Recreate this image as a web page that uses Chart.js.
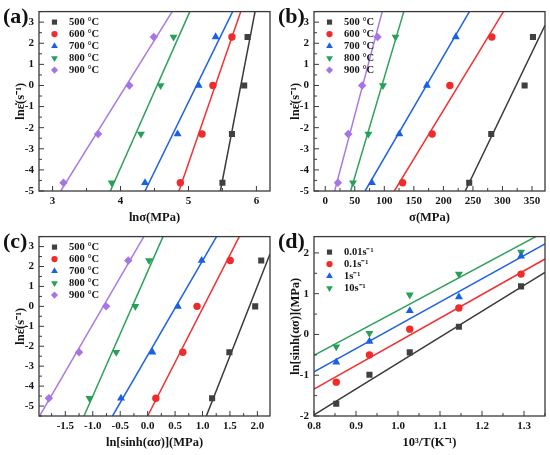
<!DOCTYPE html>
<html>
<head>
<meta charset="utf-8">
<script src="https://cdn.jsdelivr.net/npm/chart.js@4.4.1/dist/chart.umd.min.js"></script>
<style>
  body { margin: 0; background: #fff; width: 550px; height: 455px; position: relative; overflow: hidden; }
  .pane { position: absolute; width: 275px; height: 228px; }
  .tag { position: absolute; font: bold 22px "Liberation Serif"; line-height: 22px; color: #111; }
</style>
</head>
<body>
<div class="pane" style="left:0;top:0"><canvas id="ca" width="275" height="228"></canvas></div>
<div class="pane" style="left:275px;top:0"><canvas id="cb" width="275" height="228"></canvas></div>
<div class="pane" style="left:0;top:225px"><canvas id="cc" width="275" height="228"></canvas></div>
<div class="pane" style="left:275px;top:225px"><canvas id="cd" width="275" height="228"></canvas></div>
<div class="tag" style="left:3px;top:5px">(a)</div>
<div class="tag" style="left:278px;top:5px">(b)</div>
<div class="tag" style="left:3px;top:230px">(c)</div>
<div class="tag" style="left:278px;top:230px">(d)</div>
<script>
// strain rates 0.01, 0.1, 1, 10 s-1 as ln values
var rateLn = [-4.61, -2.30, 0, 2.30];
var tempLabels = ['500 °C', '600 °C', '700 °C', '800 °C', '900 °C'];
var rateLabels = ['0.01s⁻¹', '0.1s⁻¹', '1s⁻¹', '10s⁻¹'];
var invT = [0.853, 0.932, 1.028, 1.145, 1.293];

// (a) ln(sigma) per temperature
var lnSig = [
  [5.50, 5.64, 5.82, 5.87],
  [4.88, 5.20, 5.36, 5.64],
  [4.36, 4.84, 5.15, 5.40],
  [3.87, 4.30, 4.59, 4.78],
  [3.16, 3.67, 4.13, 4.49]
];
// fitted lines: [x1, y1, x2, y2]
var lnSigFit = [
  [5.47, -5, 5.98, 3.5],
  [4.86, -5, 5.77, 3.5],
  [4.36, -5, 5.65, 3.5],
  [3.85, -5, 5.02, 3.5],
  [3.12, -5, 4.76, 3.5]
];

// (b) sigma (MPa)
var sig = [
  [243.7, 281, 337.5, 351.6],
  [131, 181, 211, 282],
  [79, 125.5, 172, 221],
  [47, 73, 97.7, 119],
  [21.5, 39, 62.5, 88.6]
];
var sigFit = [
  [237, -5, 372, 2.85],
  [117, -5, 301.7, 3.5],
  [67.5, -5, 244, 3.5],
  [43, -5, 133, 3.5],
  [16, -5, 96.5, 3.5]
];

// (c) ln[sinh(alpha*sigma)]
var lnSinh = [
  [1.175, 1.49, 1.96, 2.07],
  [0.15, 0.64, 0.90, 1.505],
  [-0.486, 0.087, 0.55, 0.985],
  [-1.06, -0.573, -0.225, 0.026],
  [-1.80, -1.25, -0.756, -0.353]
];
var lnSinhFit = [
  [1.07, -5.5, 2.23, 2.63],
  [0.0, -5.5, 1.67, 3.5],
  [-0.64, -5.5, 1.255, 3.5],
  [-1.16, -5.5, 0.28, 3.5],
  [-1.98, -5.55, -0.07, 3.5]
];

// (d) ln[sinh(alpha*sigma)] vs 1000/T, per strain rate
var lnSinhT = [
  [-1.70, -0.99, -0.44, 0.19, 1.18],
  [-1.17, -0.50, 0.13, 0.65, 1.48],
  [-0.68, -0.17, 0.58, 0.92, 1.92],
  [-0.30, 0.03, 0.97, 1.48, 2.02]
];
var lnSinhTFit = [
  [0.8, -1.97, 1.35, 1.52],
  [0.8, -1.34, 1.35, 1.85],
  [0.8, -0.92, 1.35, 2.22],
  [0.8, -0.51, 1.35, 2.52]
];

// tick labels
var aXTicks = [3, 4, 5, 6];
var bXTicks = [0, 50, 100, 150, 200, 250, 300, 350];
var cXTicks = [-1.5, -1.0, -0.5, 0.0, 0.5, 1.0, 1.5, 2.0];
var dXTicks = [0.8, 0.9, 1.0, 1.1, 1.2, 1.3];
var rateYTicks = [-5, -4, -3, -2, -1, 0, 1, 2, 3];
var dYTicks = [-2, -1, 0, 1, 2];

var colors = ['#404040', '#f02b2b', '#1a60e4', '#27a058', '#a674e4'];
var lineColors = ['#3a3a3a', '#f03232', '#1f62e2', '#2ea15c', '#a97be2'];
var styles = [
  { pointStyle: 'rect', radius: 4.3, rotation: 0 },
  { pointStyle: 'circle', radius: 3.7, rotation: 0 },
  { pointStyle: 'triangle', radius: 4.6, rotation: 0 },
  { pointStyle: 'triangle', radius: 4.6, rotation: 180 },
  { pointStyle: 'rectRot', radius: 4.2, rotation: 0 }
];

var FONT = '"Liberation Serif"';

// box round the plot and inward tick marks on bottom and left
var frameTicks = {
  id: 'frameTicks',
  afterDraw: function (chart) {
    var ctx = chart.ctx, a = chart.chartArea;
    var o = chart.options.plugins.frameTicks;
    ctx.save();
    ctx.strokeStyle = '#3a3a3a';
    ctx.lineWidth = 1.3;
    ctx.strokeRect(a.left, a.top, a.right - a.left, a.bottom - a.top);
    ctx.lineWidth = 1;
    ctx.beginPath();
    [['x', o.xMinor], ['y', o.yMinor]].forEach(function (p) {
      var s = chart.scales[p[0]], step = p[1];
      var majors = s.ticks.map(function (t) { return t.value; });
      for (var k = Math.ceil(s.min / step - 1e-6); k * step <= s.max + 1e-6; k++) {
        var v = k * step;
        var isMajor = majors.some(function (m) { return Math.abs(m - v) < step / 10; });
        var len = isMajor ? 5 : 3;
        var px = s.getPixelForValue(v);
        if (p[0] === 'x') { ctx.moveTo(px, a.bottom); ctx.lineTo(px, a.bottom - len); }
        else { ctx.moveTo(a.left, px); ctx.lineTo(a.left + len, px); }
      }
    });
    ctx.stroke();
    ctx.restore();
  }
};

// legend drawn inside the top left corner of the plot
var innerLegend = {
  id: 'innerLegend',
  afterDraw: function (chart) {
    var ctx = chart.ctx, a = chart.chartArea;
    var o = chart.options.plugins.innerLegend;
    var row = 0;
    ctx.save();
    chart.data.datasets.forEach(function (ds) {
      if (!ds.label) return;
      var y = a.top + o.dy + row * 12;
      ctx.fillStyle = ds.backgroundColor;
      Chart.helpers.drawPoint(ctx, { pointStyle: ds.pointStyle, radius: ds.pointRadius * 0.85, rotation: ds.rotation, borderWidth: 0 }, a.left + 15.5, y);
      ctx.fillStyle = '#151515';
      ctx.font = 'bold 10.5px ' + FONT;
      ctx.textBaseline = 'middle';
      ctx.fillText(ds.label, a.left + o.tx, y + 0.5);
      row++;
    });
    ctx.restore();
  }
};

// xSets / ySets: one list of values per series
function makePanel(id, xSets, ySets, fits, labels, ax) {
  var datasets = [];
  labels.forEach(function (lab, i) {
    var pts = xSets[i].map(function (x, k) { return { x: x, y: ySets[i][k] }; });
    datasets.push({
      label: lab, data: pts, showLine: false, order: 0,
      backgroundColor: colors[i], borderWidth: 0,
      pointStyle: styles[i].pointStyle, pointRadius: styles[i].radius, rotation: styles[i].rotation
    });
    var f = fits[i];
    datasets.push({
      label: '', data: [{ x: f[0], y: f[1] }, { x: f[2], y: f[3] }], showLine: true, order: 1,
      borderColor: lineColors[i], borderWidth: 1.5, pointRadius: 0
    });
  });

  function axis(cfg, isX) {
    return {
      type: 'linear', min: cfg.min, max: cfg.max,
      afterBuildTicks: function (s) { s.ticks = cfg.ticks.map(function (v) { return { value: v }; }); },
      afterFit: function (s) { if (isX) s.height = 37; else s.width = 39; },
      grid: { display: false, drawTicks: false },
      border: { display: false },
      ticks: {
        padding: isX ? 4 : 5, color: '#151515',
        font: { family: FONT, size: 11, weight: 'bold' },
        callback: function (v) { return cfg.dec ? v.toFixed(cfg.dec) : String(v); }
      },
      title: {
        display: true, text: cfg.title, color: '#151515',
        font: { family: FONT, size: 12.5, weight: 'bold' },
        padding: isX ? { top: 0, bottom: 3 } : { top: 13, bottom: 0 }
      }
    };
  }

  return new Chart(document.getElementById(id), {
    type: 'scatter',
    data: { datasets: datasets },
    options: {
      responsive: false, animation: false,
      layout: { padding: { left: 0, right: 5, top: 5, bottom: 0 } },
      scales: { x: axis(ax.x, true), y: axis(ax.y, false) },
      plugins: {
        legend: { display: false }, tooltip: { enabled: false },
        frameTicks: { xMinor: ax.x.minor, yMinor: ax.y.minor },
        innerLegend: { dy: ax.legendDy, tx: 30 }
      }
    },
    plugins: [frameTicks, innerLegend]
  });
}

function repeat(list, n) {
  var out = [];
  for (var i = 0; i < n; i++) out.push(list);
  return out;
}

var rateY = { min: -5, max: 3.5, ticks: rateYTicks, minor: 0.5, title: 'lnε̇(s⁻¹)' };
var rateSets = repeat(rateLn, tempLabels.length);

makePanel('ca', lnSig, rateSets, lnSigFit, tempLabels, {
  x: { min: 2.8, max: 6.2, ticks: aXTicks, minor: 0.5, title: 'lnσ(MPa)' },
  y: rateY, legendDy: 10.5
});
makePanel('cb', sig, rateSets, sigFit, tempLabels, {
  x: { min: -19, max: 372, ticks: bXTicks, minor: 25, title: 'σ(MPa)' },
  y: rateY, legendDy: 10.5
});
makePanel('cc', lnSinh, rateSets, lnSinhFit, tempLabels, {
  x: { min: -1.98, max: 2.23, ticks: cXTicks, minor: 0.25, dec: 1, title: 'ln[sinh(ασ)](MPa)' },
  y: { min: -5.5, max: 3.5, ticks: rateYTicks, minor: 0.5, title: 'lnε̇(s⁻¹)' },
  legendDy: 10.5
});
makePanel('cd', repeat(invT, rateLabels.length), lnSinhT, lnSinhTFit, rateLabels, {
  x: { min: 0.8, max: 1.35, ticks: dXTicks, minor: 0.05, dec: 1, title: '10³/T(K⁻¹)' },
  y: { min: -2, max: 2.4, ticks: dYTicks, minor: 0.5, title: 'ln[sinh(ασ)](MPa)' },
  legendDy: 15.5
});
</script>
</body>
</html>
